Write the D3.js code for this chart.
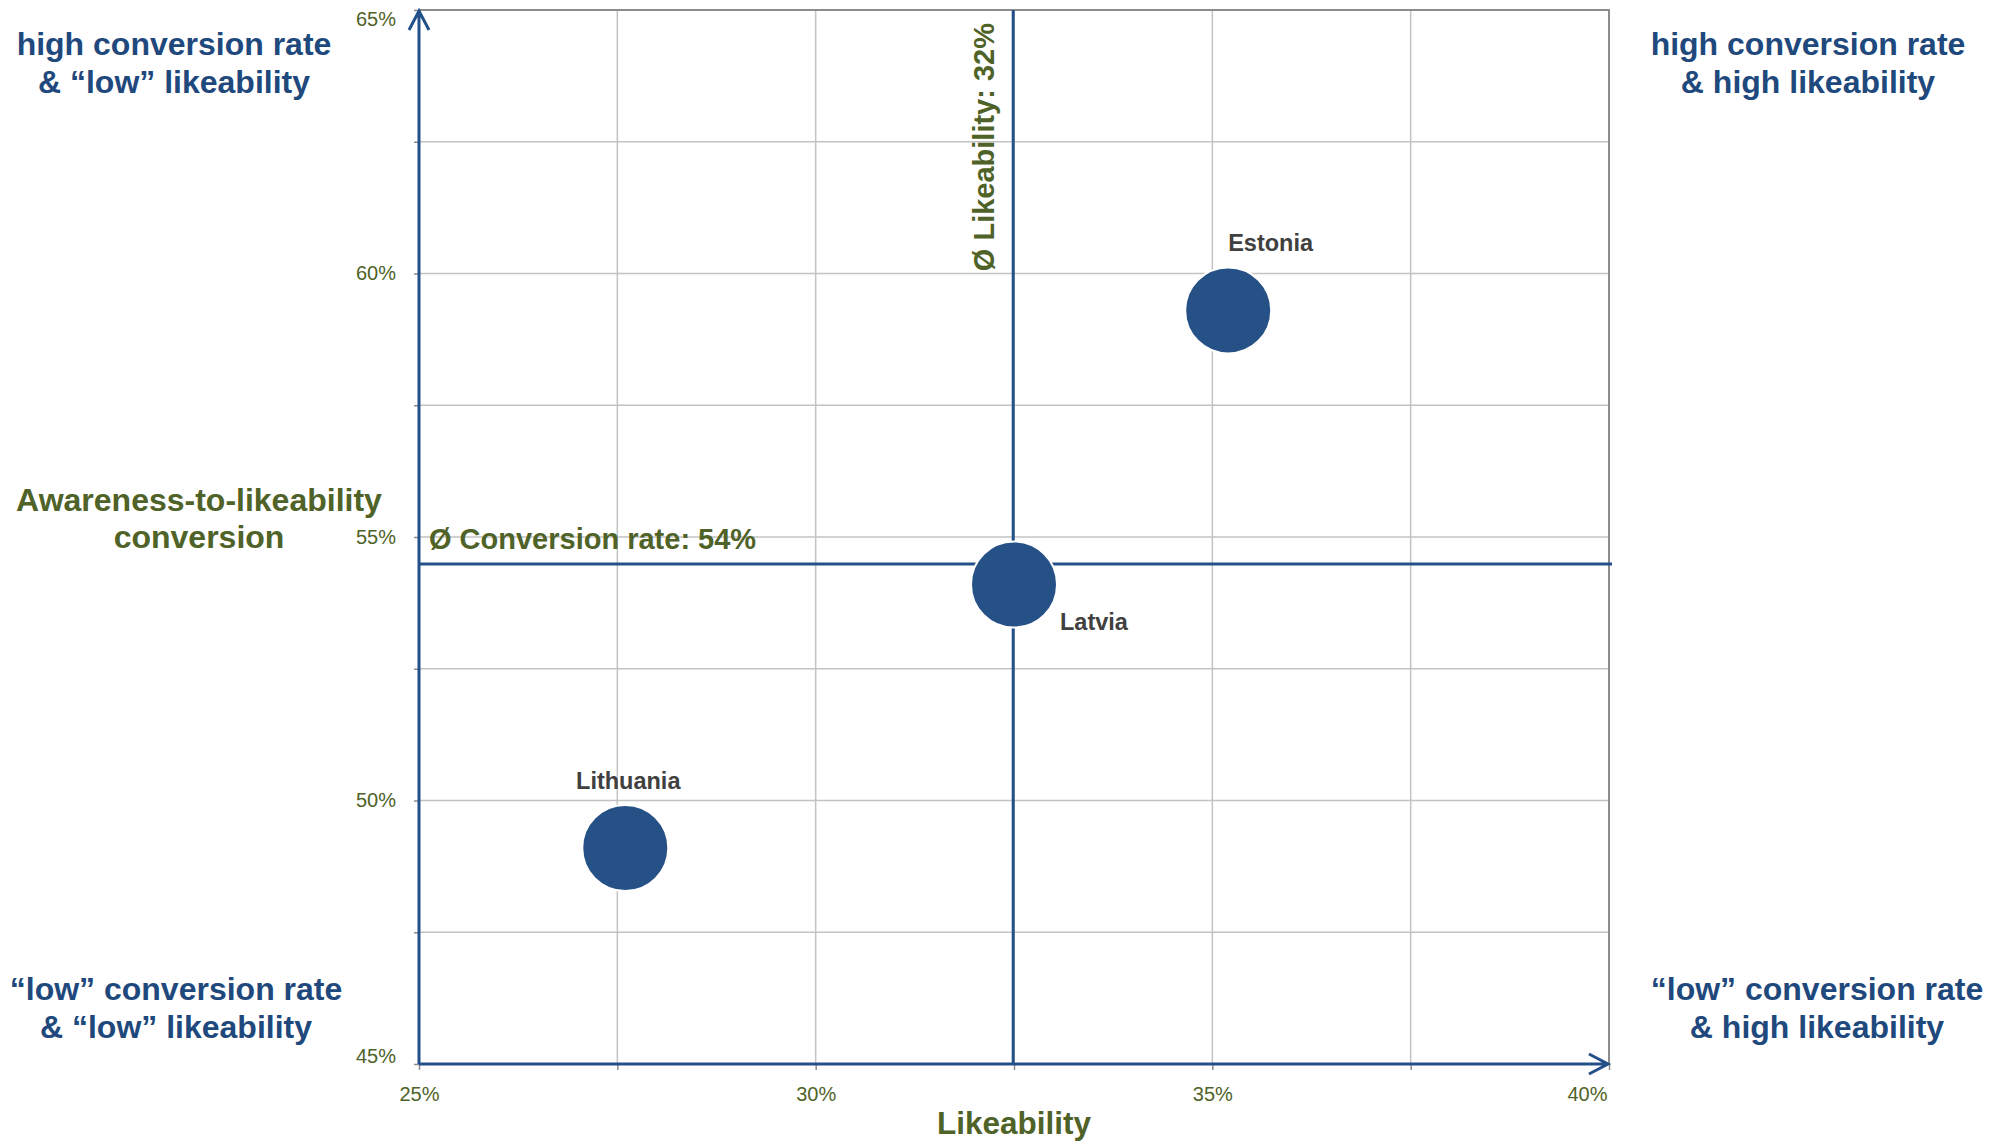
<!DOCTYPE html>
<html>
<head>
<meta charset="utf-8">
<script src="https://cdn.jsdelivr.net/npm/d3@7"></script>
<style>
  html, body { margin: 0; padding: 0; background: #ffffff; }
  svg { display: block; font-family: "Liberation Sans", Arial, sans-serif; }
</style>
</head>
<body>
<svg id="chart" width="1990" height="1143"></svg>
<script>
// ---- data ----
const countries = ["Estonia", "Latvia", "Lithuania"];
const likeability = [35.2, 32.5, 27.6];      // % (x)
const conversion = [59.3, 54.1, 49.1];       // % (y)
const avgLikeability = 32.49;                // Ø likeability, %
const avgConversion = 54.49;                 // Ø conversion rate, %
const likeabilityTicks = [25, 27.5, 30, 32.5, 35, 37.5, 40];
const conversionTicks = [45, 47.5, 50, 52.5, 55, 57.5, 60, 62.5, 65];
const xTitle = "Likeability";
const yTitle = ["Awareness-to-likeability", "conversion"];
const quadrantText = [
  ["high conversion rate", "& \u201clow\u201d likeability"],
  ["high conversion rate", "& high likeability"],
  ["\u201clow\u201d conversion rate", "& \u201clow\u201d likeability"],
  ["\u201clow\u201d conversion rate", "& high likeability"]
];

// ---- layout & style ----
const plotL = 419, plotR = 1609, plotT = 10, plotB = 1064;
const quadrantPos = [[174, 55], [1808, 55], [176, 1000], [1817, 1000]];
const labelPlacement = {
  Estonia:   { dx: 0,   dy: -59, anchor: "start" },
  Latvia:    { dx: 46,  dy: 46,  anchor: "start" },
  Lithuania: { dx: 3,   dy: -59, anchor: "middle" }
};
const olive = "#4F6228", navy = "#1F497D", axisBlue = "#24508A",
      bubbleFill = "#265187", grid = "#C3C3C3", frame = "#8C8C8C";
const bubbleR = 43;

const svg = d3.select("#chart");
const x = d3.scaleLinear().domain([25, 40]).range([plotL, plotR]);
const y = d3.scaleLinear().domain([45, 65]).range([plotB, plotT]);
const pct = d => d3.format(".0f")(d) + "%";

// gridlines
svg.append("g").selectAll("line").data(likeabilityTicks.slice(1, -1)).join("line")
  .attr("x1", d => x(d)).attr("x2", d => x(d)).attr("y1", plotT).attr("y2", plotB)
  .attr("stroke", grid).attr("stroke-width", 1.5);
svg.append("g").selectAll("line").data(conversionTicks.slice(1, -1)).join("line")
  .attr("x1", plotL).attr("x2", plotR).attr("y1", d => y(d)).attr("y2", d => y(d))
  .attr("stroke", grid).attr("stroke-width", 1.5);

// frame (top & right)
svg.append("path")
  .attr("d", `M${plotL},${plotT}H${plotR}V${plotB}`)
  .attr("fill", "none").attr("stroke", frame).attr("stroke-width", 2);

// axes: ticks and labels
const xAxis = svg.append("g").attr("transform", `translate(0,${plotB})`)
  .call(d3.axisBottom(x).tickValues(likeabilityTicks)
    .tickFormat(d => d % 5 === 0 ? pct(d) : "").tickSize(6).tickPadding(17));
xAxis.select(".domain").remove();
xAxis.selectAll(".tick line").attr("stroke", frame).attr("stroke-width", 1.5);
xAxis.selectAll(".tick text").attr("fill", olive).attr("font-size", 20)
  .attr("font-family", "Liberation Sans, Arial, sans-serif");
xAxis.selectAll(".tick").filter(d => d === 40).select("text")
  .attr("text-anchor", "end").attr("x", -2);

const yAxis = svg.append("g").attr("transform", `translate(${plotL},0)`)
  .call(d3.axisLeft(y).tickValues(conversionTicks)
    .tickFormat(d => d % 5 === 0 ? pct(d) : "").tickSize(5).tickPadding(18));
yAxis.select(".domain").remove();
yAxis.selectAll(".tick line").attr("stroke", frame).attr("stroke-width", 1.5);
yAxis.selectAll(".tick text").attr("fill", olive).attr("font-size", 20)
  .attr("font-family", "Liberation Sans, Arial, sans-serif");
yAxis.selectAll(".tick").filter(d => d === 65).select("text").attr("dy", "0.77em");
yAxis.selectAll(".tick").filter(d => d === 45).select("text").attr("dy", "-0.08em");

// average lines
svg.append("line")
  .attr("x1", x(avgLikeability)).attr("x2", x(avgLikeability))
  .attr("y1", plotT).attr("y2", plotB)
  .attr("stroke", axisBlue).attr("stroke-width", 3);
svg.append("line")
  .attr("x1", plotL).attr("x2", plotR + 3)
  .attr("y1", y(avgConversion)).attr("y2", y(avgConversion))
  .attr("stroke", axisBlue).attr("stroke-width", 3);

// axis arrows
svg.append("path")
  .attr("d", `M${plotL},${plotB}V${plotT + 1}M${plotL - 10},${plotT + 20}L${plotL},${plotT + 1}L${plotL + 10},${plotT + 20}`)
  .attr("fill", "none").attr("stroke", axisBlue).attr("stroke-width", 3);
svg.append("path")
  .attr("d", `M${plotL},${plotB}H${plotR - 1}M${plotR - 20},${plotB - 10}L${plotR - 1},${plotB}L${plotR - 20},${plotB + 10}`)
  .attr("fill", "none").attr("stroke", axisBlue).attr("stroke-width", 3);

// average labels
svg.append("text")
  .attr("transform", `translate(${x(avgLikeability) - 19},${plotT + 13}) rotate(-90)`)
  .attr("text-anchor", "end").attr("font-weight", "bold").attr("font-size", 29)
  .attr("fill", olive).text(`\u00d8 Likeability: ${pct(avgLikeability)}`);
svg.append("text")
  .attr("x", plotL + 10).attr("y", y(avgConversion) - 15)
  .attr("font-weight", "bold").attr("font-size", 29)
  .attr("fill", olive).text(`\u00d8 Conversion rate: ${pct(avgConversion)}`);

// bubbles
const points = countries.map((c, i) => ({ name: c, lx: likeability[i], cr: conversion[i] }));
svg.append("g").selectAll("circle").data(points).join("circle")
  .attr("cx", d => x(d.lx)).attr("cy", d => y(d.cr)).attr("r", bubbleR)
  .attr("fill", bubbleFill).attr("stroke", "#ffffff").attr("stroke-width", 2);
svg.append("g").selectAll("text").data(points).join("text")
  .attr("x", d => x(d.lx) + labelPlacement[d.name].dx)
  .attr("y", d => y(d.cr) + labelPlacement[d.name].dy)
  .attr("text-anchor", d => labelPlacement[d.name].anchor)
  .attr("font-weight", "bold").attr("font-size", 23.5).attr("fill", "#404040")
  .text(d => d.name);

// axis titles
svg.append("text").attr("x", (plotL + plotR) / 2).attr("y", 1134)
  .attr("text-anchor", "middle").attr("font-weight", "bold").attr("font-size", 31.5)
  .attr("fill", olive).text(xTitle);
svg.append("text").attr("text-anchor", "middle").attr("font-weight", "bold")
  .attr("font-size", 32).attr("fill", olive)
  .selectAll("tspan").data(yTitle).join("tspan")
  .attr("x", 199).attr("y", (d, i) => 511 + i * 37).text(d => d);

// quadrant captions
quadrantText.forEach((lines, i) => {
  svg.append("text").attr("text-anchor", "middle").attr("font-weight", "bold")
    .attr("font-size", 32).attr("fill", navy)
    .selectAll("tspan").data(lines).join("tspan")
    .attr("x", quadrantPos[i][0]).attr("y", (d, j) => quadrantPos[i][1] + j * 37.5)
    .text(d => d);
});
</script>
</body>
</html>
